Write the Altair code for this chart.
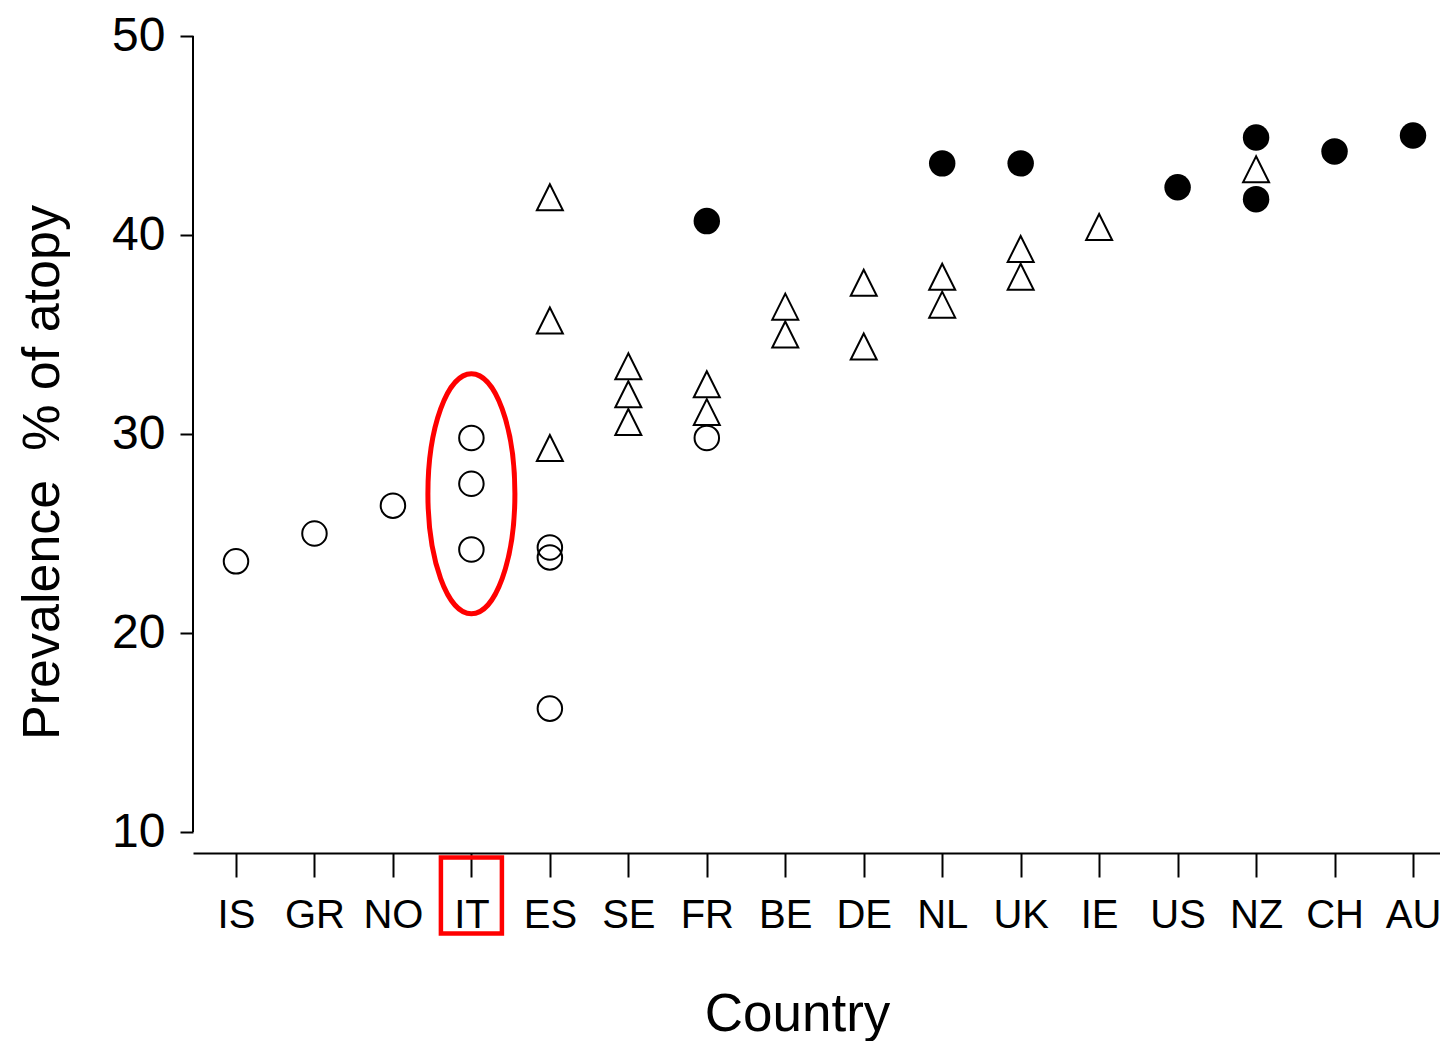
import altair as alt
import pandas as pd

# ---- data ----
countries = ["IS", "GR", "NO", "IT", "ES", "SE", "FR", "BE", "DE", "NL", "UK", "IE", "US", "NZ", "CH", "AU"]

open_country = ["IS", "GR", "NO", "IT", "IT", "IT", "ES", "ES", "ES", "FR"]
open_value = [23.6, 25.0, 26.4, 29.8, 27.5, 24.2, 24.3, 23.8, 16.2, 29.8]

tri_country = ["ES", "ES", "ES", "SE", "SE", "SE", "FR", "FR", "BE", "BE",
               "DE", "DE", "NL", "NL", "UK", "UK", "IE", "NZ"]
tri_value = [41.9, 35.7, 29.3, 33.4, 32.0, 30.6, 32.5, 31.1, 36.4, 35.0,
             37.6, 34.4, 37.9, 36.5, 39.3, 37.9, 40.4, 43.3]

filled_country = ["FR", "NL", "UK", "US", "NZ", "NZ", "CH", "AU"]
filled_value = [40.7, 43.6, 43.6, 42.4, 44.9, 41.8, 44.2, 45.0]

y_ticks = [10, 20, 30, 40, 50]

highlight_country = "IT"
highlight_center = 27.0

FONT = "Liberation Sans, Arial, sans-serif"

X_MIN, X_MAX = -0.548, 15.344


def frame(cs, vs):
    return pd.DataFrame({"idx": [countries.index(c) for c in cs], "value": vs})


open_df = frame(open_country, open_value)
tri_df = frame(tri_country, tri_value)
filled_df = frame(filled_country, filled_value)
hl_idx = countries.index(highlight_country)
ellipse_df = pd.DataFrame({"idx": [hl_idx], "value": [highlight_center]})
box_df = pd.DataFrame({"idx": [hl_idx], "value": [6.81]})
yline_df = pd.DataFrame({"idx": [X_MIN], "value": [min(y_ticks)], "hi": [max(y_ticks)]})

x_scale = alt.Scale(domain=[X_MIN, X_MAX], nice=False, zero=False)
y_scale = alt.Scale(domain=[8.945, 50], nice=False, zero=False)

label_expr = "[" + ",".join("'%s'" % c for c in countries) + "][datum.value]"

x_axis = alt.Axis(
    values=list(range(len(countries))), labelExpr=label_expr, title="Country",
    grid=False, domain=True, domainColor="black", domainWidth=2,
    ticks=True, tickSize=24, tickWidth=2, tickColor="black",
    labelFont=FONT, labelFontSize=40, labelColor="black", labelPadding=50,
    labelBaseline="alphabetic", labelFlush=False, labelOverlap=False,
    titleFont=FONT, titleFontSize=53, titleFontWeight="normal", titleColor="black",
    titleX=604, titleY=177, titleBaseline="alphabetic", titleAlign="center",
)
y_axis = alt.Axis(
    values=y_ticks, title="Prevalence\u00a0 % of atopy",
    grid=False, domain=False,
    ticks=True, tickSize=13, tickWidth=2, tickColor="black",
    labelFont=FONT, labelFontSize=48, labelColor="black", labelPadding=15,
    labelBaseline="middle", labelFlush=False, labelOverlap=False,
    titleFont=FONT, titleFontSize=52, titleFontWeight="normal", titleColor="black",
    titleAngle=270, titleX=-135, titleY=436, titleBaseline="alphabetic", titleAlign="center",
)

X = alt.X("idx:Q", scale=x_scale, axis=x_axis)
Y = alt.Y("value:Q", scale=y_scale, axis=y_axis)

TRI = "M 0 -1 L -1 1 L 1 1 Z"
ELLIPSE = ("M 0 -1 C 0.2002 -1 0.3625 -0.5523 0.3625 0 C 0.3625 0.5523 0.2002 1 0 1 "
           "C -0.2002 1 -0.3625 0.5523 -0.3625 0 C -0.3625 -0.5523 -0.2002 -1 0 -1 Z")
BOX = "M -0.8026 -1 L 0.8026 -1 L 0.8026 1 L -0.8026 1 Z"

open_layer = alt.Chart(open_df).mark_point(
    shape="circle", filled=False, color="black", size=600, strokeWidth=2, opacity=1
).encode(x=X, y=Y)

tri_layer = alt.Chart(tri_df).mark_point(
    shape=TRI, filled=False, color="black", size=676, strokeWidth=2, opacity=1
).encode(x=X, y=Y)

filled_layer = alt.Chart(filled_df).mark_point(
    shape="circle", filled=True, color="black", size=700, opacity=1
).encode(x=X, y=Y)

yline = alt.Chart(yline_df).mark_rule(color="black", strokeWidth=2).encode(
    x=X, y=Y, y2="hi:Q",
)

ellipse = alt.Chart(ellipse_df).mark_point(
    shape=ELLIPSE, filled=False, color="#ff0000", size=57600, strokeWidth=5, opacity=1
).encode(x=X, y=Y)

box = alt.Chart(box_df).mark_point(
    shape=BOX, filled=False, color="#ff0000", size=5776, strokeWidth=4.5, opacity=1
).encode(x=X, y=Y)

chart = alt.layer(open_layer, yline, tri_layer, filled_layer, ellipse, box).properties(
    width=1247, height=817,
    autosize=alt.AutoSizeParams(type="none"),
    padding={"left": 185, "top": 28, "right": 0, "bottom": 188},
    background="white",
).configure_view(stroke=None)

chart.save("out.html", embed_options={"renderer": "svg", "actions": False})
